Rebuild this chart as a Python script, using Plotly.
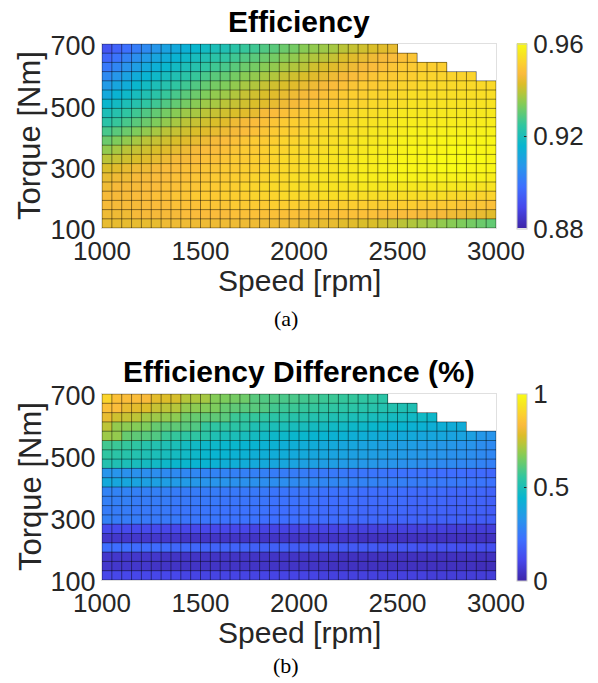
import plotly.graph_objects as go

# ---------------- data ----------------
speed = [1025, 1075, 1125, 1175, 1225, 1275, 1325, 1375, 1425, 1475,
         1525, 1575, 1625, 1675, 1725, 1775, 1825, 1875, 1925, 1975,
         2025, 2075, 2125, 2175, 2225, 2275, 2325, 2375, 2425, 2475,
         2525, 2575, 2625, 2675, 2725, 2775, 2825, 2875, 2925, 2975]
torque = [685, 655, 625, 595, 565, 535, 505, 475, 445, 415,
          385, 355, 325, 295, 265, 235, 205, 175, 145, 115]
speed_ticks = [1000, 1500, 2000, 2500, 3000]
torque_ticks = [100, 300, 500, 700]

# efficiency in thousandths (rows: top torque -> bottom torque)
eff_r00 = [892, 895, 898, 901, 904, 907, 910, 912, 914, 916, 918, 920, 921, 923, 925, 926, 928, 929, 931, 932, 934, 935, 936, 937, 939, 940, 941, 942, 943, 944]
eff_r01 = [896, 899, 902, 905, 908, 911, 913, 915, 917, 919, 921, 923, 924, 926, 928, 929, 931, 932, 934, 935, 937, 938, 939, 940, 942, 943, 944, 945, 946, 947, 948, 949]
eff_r02 = [900, 903, 906, 909, 912, 914, 916, 918, 920, 922, 924, 926, 927, 929, 931, 932, 934, 935, 937, 938, 939, 941, 942, 943, 944, 945, 946, 947, 948, 949, 950, 950, 951, 951, 951]
eff_r03 = [904, 907, 910, 913, 915, 917, 919, 921, 923, 925, 927, 929, 930, 932, 934, 935, 937, 938, 940, 941, 942, 943, 944, 945, 946, 947, 948, 949, 950, 950, 951, 951, 952, 952, 952, 952, 952, 952]
eff_r04 = [908, 911, 913, 916, 918, 920, 922, 924, 926, 928, 930, 932, 933, 935, 937, 938, 940, 941, 942, 943, 944, 945, 946, 947, 948, 949, 950, 950, 951, 951, 952, 952, 953, 953, 953, 953, 953, 953, 953, 953]
eff_r05 = [912, 915, 917, 919, 921, 923, 925, 927, 929, 931, 933, 935, 936, 938, 940, 941, 942, 943, 944, 945, 946, 947, 948, 949, 950, 951, 951, 952, 952, 953, 953, 954, 954, 954, 954, 954, 954, 954, 954, 954]
eff_r06 = [916, 918, 920, 922, 924, 926, 928, 930, 932, 934, 936, 937, 939, 940, 941, 942, 943, 944, 945, 946, 948, 949, 950, 950, 951, 952, 952, 953, 953, 954, 954, 955, 955, 955, 955, 955, 955, 955, 955, 955]
eff_r07 = [920, 922, 924, 926, 928, 930, 932, 934, 936, 937, 939, 940, 941, 942, 943, 944, 946, 947, 948, 949, 950, 951, 951, 952, 952, 953, 954, 954, 955, 955, 956, 956, 956, 956, 956, 956, 956, 956, 956, 956]
eff_r08 = [923, 925, 927, 929, 931, 933, 935, 937, 939, 940, 941, 942, 943, 945, 946, 947, 948, 949, 950, 951, 951, 952, 953, 953, 954, 954, 955, 955, 956, 956, 957, 957, 957, 957, 957, 957, 957, 957, 957, 957]
eff_r09 = [927, 929, 931, 933, 935, 937, 939, 940, 941, 942, 943, 944, 945, 946, 947, 948, 949, 950, 951, 951, 952, 953, 953, 954, 954, 955, 955, 956, 956, 957, 957, 958, 958, 958, 958, 958, 958, 958, 958, 958]
eff_r10 = [931, 933, 935, 937, 939, 940, 941, 942, 943, 944, 945, 946, 947, 948, 949, 950, 950, 951, 952, 952, 953, 953, 954, 954, 955, 955, 956, 956, 957, 957, 958, 958, 958, 959, 959, 959, 959, 959, 959, 959]
eff_r11 = [935, 937, 939, 940, 941, 942, 943, 944, 945, 946, 947, 947, 948, 949, 950, 950, 951, 952, 952, 953, 953, 954, 954, 955, 955, 956, 956, 957, 957, 958, 958, 959, 959, 959, 959, 960, 960, 960, 959, 959]
eff_r12 = [939, 940, 941, 942, 943, 944, 945, 946, 946, 947, 948, 948, 949, 950, 950, 951, 951, 952, 953, 953, 954, 954, 955, 955, 956, 956, 957, 957, 958, 958, 959, 959, 959, 960, 960, 960, 960, 960, 960, 959]
eff_r13 = [942, 943, 944, 945, 945, 946, 947, 947, 948, 948, 949, 949, 950, 950, 951, 951, 952, 952, 953, 953, 954, 954, 955, 955, 956, 956, 957, 957, 958, 958, 959, 959, 959, 959, 960, 960, 960, 959, 959, 959]
eff_r14 = [944, 945, 945, 946, 946, 947, 947, 948, 948, 949, 949, 950, 950, 951, 951, 952, 952, 953, 953, 954, 954, 955, 955, 955, 956, 956, 957, 957, 957, 958, 958, 958, 958, 958, 958, 958, 958, 958, 958, 957]
eff_r15 = [945, 946, 946, 946, 947, 947, 948, 948, 949, 949, 950, 950, 951, 951, 952, 952, 953, 953, 953, 954, 954, 954, 955, 955, 955, 955, 956, 956, 956, 956, 956, 956, 956, 956, 956, 956, 956, 956, 955, 955]
eff_r16 = [946, 946, 946, 947, 947, 948, 948, 949, 949, 950, 950, 950, 951, 951, 951, 952, 952, 952, 953, 953, 953, 953, 954, 954, 954, 954, 954, 954, 954, 954, 954, 954, 954, 954, 954, 953, 953, 953, 952, 952]
eff_r17 = [946, 946, 946, 946, 947, 947, 947, 948, 948, 948, 949, 949, 949, 950, 950, 950, 950, 951, 951, 951, 951, 951, 951, 951, 951, 951, 951, 951, 951, 951, 951, 951, 950, 950, 950, 950, 949, 949, 949, 948]
eff_r18 = [945, 945, 945, 946, 946, 946, 946, 946, 947, 947, 947, 947, 947, 948, 948, 948, 948, 948, 948, 948, 948, 948, 948, 948, 948, 948, 948, 948, 947, 947, 947, 947, 946, 946, 946, 945, 945, 944, 944, 943]
eff_r19 = [944, 944, 944, 944, 944, 944, 945, 945, 945, 945, 945, 945, 945, 945, 945, 945, 945, 945, 945, 945, 944, 944, 944, 944, 943, 943, 942, 942, 941, 940, 939, 938, 937, 936, 935, 934, 933, 932, 931, 930]

# efficiency difference in hundredths of a percent
dif_r00 = [90, 85, 84, 84, 83, 79, 78, 77, 73, 72, 71, 67, 66, 65, 64, 61, 60, 60, 59, 59, 58, 58, 57, 57, 56, 56, 55, 55, 54]
dif_r01 = [85, 84, 80, 79, 78, 75, 74, 73, 69, 68, 67, 66, 63, 62, 61, 61, 60, 58, 57, 57, 56, 56, 55, 55, 54, 54, 53, 53, 52, 52, 51, 51]
dif_r02 = [80, 76, 75, 74, 71, 70, 69, 68, 64, 63, 62, 62, 61, 57, 56, 56, 55, 54, 54, 53, 53, 52, 52, 51, 51, 50, 50, 49, 49, 48, 48, 47, 47, 46]
dif_r03 = [74, 69, 68, 67, 66, 63, 62, 62, 61, 60, 56, 55, 55, 54, 54, 51, 51, 50, 50, 49, 49, 48, 48, 47, 47, 46, 46, 45, 45, 44, 44, 43, 43, 42, 42, 41, 41]
dif_r04 = [70, 69, 63, 62, 61, 60, 57, 56, 55, 55, 54, 51, 50, 50, 49, 48, 47, 46, 46, 45, 45, 44, 44, 43, 43, 42, 42, 41, 41, 40, 40, 40, 39, 39, 39, 38, 38, 37, 34, 33]
dif_r05 = [58, 57, 56, 55, 53, 52, 51, 50, 48, 47, 46, 46, 45, 45, 44, 44, 43, 43, 42, 42, 41, 41, 40, 40, 39, 39, 38, 38, 37, 37, 36, 36, 35, 35, 34, 34, 33, 33, 31, 30]
dif_r06 = [55, 54, 53, 52, 51, 50, 49, 48, 47, 46, 45, 44, 44, 43, 43, 42, 42, 41, 41, 40, 40, 39, 39, 38, 38, 37, 37, 36, 36, 35, 35, 34, 34, 33, 33, 32, 32, 31, 30, 29]
dif_r07 = [52, 51, 50, 49, 48, 47, 46, 45, 45, 44, 44, 43, 42, 42, 41, 40, 40, 39, 39, 38, 37, 37, 36, 36, 35, 35, 34, 34, 33, 33, 32, 32, 31, 31, 30, 30, 29, 29, 28, 27]
dif_r08 = [33, 33, 32, 32, 31, 31, 30, 30, 29, 29, 28, 28, 28, 27, 27, 27, 27, 26, 26, 26, 26, 25, 25, 25, 25, 24, 24, 24, 24, 23, 23, 23, 23, 22, 22, 22, 22, 21, 21, 20]
dif_r09 = [40, 39, 39, 38, 37, 37, 36, 35, 35, 34, 33, 33, 33, 32, 32, 32, 31, 31, 31, 30, 30, 30, 29, 29, 29, 28, 28, 28, 27, 27, 27, 26, 26, 26, 25, 25, 25, 24, 24, 23]
dif_r10 = [28, 28, 28, 27, 27, 27, 27, 26, 26, 26, 26, 26, 25, 25, 25, 25, 25, 24, 24, 24, 24, 24, 23, 23, 23, 23, 22, 22, 22, 22, 22, 21, 21, 21, 21, 20, 20, 20, 20, 19]
dif_r11 = [27, 27, 27, 26, 26, 26, 26, 25, 25, 25, 25, 25, 24, 24, 24, 24, 24, 23, 23, 23, 23, 23, 22, 22, 22, 22, 21, 21, 21, 21, 21, 20, 20, 20, 20, 19, 19, 19, 19, 18]
dif_r12 = [26, 26, 26, 25, 25, 25, 25, 24, 24, 24, 24, 24, 23, 23, 23, 23, 23, 22, 22, 22, 22, 22, 21, 21, 21, 21, 20, 20, 20, 20, 20, 19, 19, 19, 19, 18, 18, 18, 18, 17]
dif_r13 = [27, 26, 26, 26, 25, 25, 25, 25, 24, 24, 24, 24, 23, 23, 23, 23, 22, 22, 22, 22, 22, 21, 21, 21, 21, 20, 20, 20, 20, 19, 19, 19, 19, 18, 18, 18, 18, 17, 17, 17]
dif_r14 = [12, 12, 12, 12, 12, 12, 11, 11, 11, 11, 11, 11, 11, 11, 11, 10, 10, 10, 10, 10, 10, 10, 10, 10, 10, 9, 9, 9, 9, 9, 9, 9, 9, 9, 9, 8, 8, 8, 8, 8]
dif_r15 = [6, 6, 6, 6, 6, 6, 6, 6, 5, 5, 5, 5, 5, 5, 5, 5, 5, 5, 5, 5, 5, 5, 5, 5, 5, 5, 4, 4, 4, 4, 4, 4, 4, 4, 4, 4, 4, 4, 4, 4]
dif_r16 = [22, 22, 22, 21, 21, 21, 21, 20, 20, 20, 19, 19, 19, 19, 19, 18, 18, 18, 18, 17, 17, 17, 17, 16, 16, 16, 16, 16, 15, 15, 15, 15, 14, 14, 14, 14, 13, 13, 13, 13]
dif_r17 = [6, 6, 6, 6, 6, 6, 5, 5, 5, 5, 5, 5, 5, 5, 5, 5, 5, 5, 5, 5, 5, 5, 5, 5, 4, 4, 4, 4, 4, 4, 4, 4, 4, 4, 4, 4, 4, 4, 4, 4]
dif_r18 = [6, 6, 6, 6, 6, 5, 5, 5, 5, 5, 5, 5, 5, 5, 5, 5, 5, 5, 5, 5, 5, 5, 5, 4, 4, 4, 4, 4, 4, 4, 4, 4, 4, 4, 4, 4, 4, 4, 3, 3]
dif_r19 = [11, 11, 11, 11, 11, 11, 11, 11, 10, 10, 10, 10, 10, 10, 10, 10, 10, 10, 10, 10, 10, 10, 9, 9, 9, 9, 9, 9, 9, 9, 9, 9, 9, 8, 8, 8, 8, 8, 8, 8]

eff_rows = [eff_r00, eff_r01, eff_r02, eff_r03, eff_r04, eff_r05, eff_r06, eff_r07, eff_r08, eff_r09,
            eff_r10, eff_r11, eff_r12, eff_r13, eff_r14, eff_r15, eff_r16, eff_r17, eff_r18, eff_r19]
dif_rows = [dif_r00, dif_r01, dif_r02, dif_r03, dif_r04, dif_r05, dif_r06, dif_r07, dif_r08, dif_r09,
            dif_r10, dif_r11, dif_r12, dif_r13, dif_r14, dif_r15, dif_r16, dif_r17, dif_r18, dif_r19]

# ---------------- helpers ----------------
n_cols = len(speed)


def to_matrix(rows, scale):
    return [[v / scale for v in row] + [None] * (n_cols - len(row)) for row in rows]


eff_z = to_matrix(eff_rows, 1000.0)
dif_z = to_matrix(dif_rows, 100.0)

# parula-like colour map
PARULA = [
    [0.000, "rgb(62,38,168)"], [0.111, "rgb(71,71,235)"], [0.222, "rgb(62,111,255)"],
    [0.333, "rgb(39,150,235)"], [0.444, "rgb(8,181,208)"], [0.556, "rgb(49,198,159)"],
    [0.667, "rgb(129,204,89)"], [0.722, "rgb(175,199,62)"], [0.778, "rgb(220,189,41)"],
    [0.833, "rgb(250,186,60)"], [0.889, "rgb(252,207,48)"], [0.944, "rgb(247,230,32)"],
    [1.000, "rgb(249,251,21)"],
]


def grid_lines(z):
    hs = (speed[1] - speed[0]) / 2.0
    ht = (torque[0] - torque[1]) / 2.0
    bottom = min(torque) - ht
    col_top = []
    for c in range(n_cols):
        tops = [torque[r] + ht for r in range(len(torque)) if z[r][c] is not None]
        col_top.append(max(tops))
    s_edges = [speed[0] - hs] + [s + hs for s in speed]
    t_edges = sorted([t - ht for t in torque] + [max(torque) + ht])
    xs, ys = [], []
    for k, e in enumerate(s_edges):
        neigh = [col_top[c] for c in (k - 1, k) if 0 <= c < n_cols]
        xs += [e, e, None]
        ys += [bottom, max(neigh), None]
    for t in t_edges:
        cols = [c for c in range(n_cols) if col_top[c] >= t - 1e-9]
        right = s_edges[max(cols) + 1]
        xs += [s_edges[0], right, None]
        ys += [t, t, None]
    return xs, ys


OFF = 8  # page margin of the html body
W, H = 598 - OFF, 683 - OFF
FONT = "Liberation Sans, Arial, Helvetica, sans-serif"
TXT = "#262626"


def px_x(p):
    return (p - OFF) / W


def px_y(p):
    return 1 - (p - OFF) / H


fig = go.Figure()

panels = [
    dict(z=eff_z, zmin=0.88, zmax=0.96, cb_vals=[0.88, 0.92, 0.96], cb_text=["0.88", "0.92", "0.96"],
         top=44, bot=228, ax="", title="Efficiency", label="(a)", label_y=318),
    dict(z=dif_z, zmin=0.0, zmax=1.0, cb_vals=[0, 0.5, 1], cb_text=["0", "0.5", "1"],
         top=394, bot=580, ax="2", title="Efficiency Difference (%)", label="(b)", label_y=665),
]

left, right = 102, 496
annotations = []
for p in panels:
    xa = "x" + p["ax"]
    ya = "y" + p["ax"]
    fig.add_trace(go.Heatmap(
        x=speed, y=torque, z=p["z"], zmin=p["zmin"], zmax=p["zmax"],
        colorscale=PARULA, xaxis=xa, yaxis=ya, hoverongaps=False,
        colorbar=dict(
            x=px_x(517), xanchor="left", xref="paper",
            y=px_y((p["top"] + p["bot"]) / 2), yanchor="middle", yref="paper",
            len=(p["bot"] - p["top"] + 1) / H, lenmode="fraction",
            thickness=10, outlinewidth=1, outlinecolor="#c8c8c8",
            tickvals=p["cb_vals"], ticktext=p["cb_text"],
            ticks="inside", ticklen=3, tickcolor="#262626",
            tickfont=dict(family=FONT, size=26, color=TXT),
            ypad=0, xpad=0,
        ),
    ))
    gx, gy = grid_lines(p["z"])
    fig.add_trace(go.Scatter(x=gx, y=gy, xaxis=xa, yaxis=ya, mode="lines",
                             line=dict(color="rgba(0,0,0,0.45)", width=1),
                             hoverinfo="skip", showlegend=False))
    xkey = "xaxis" + p["ax"]
    ykey = "yaxis" + p["ax"]
    fig.update_layout(**{
        xkey: dict(domain=[px_x(left), px_x(right)], anchor=ya, range=[1000, 3000],
                   tickvals=speed_ticks, showgrid=False, zeroline=False, automargin=False,
                   showline=True, linecolor="#e0e0e0", mirror=True, ticks="",
                   tickfont=dict(family=FONT, size=26, color=TXT)),
        ykey: dict(domain=[px_y(p["bot"]), px_y(p["top"])], anchor=xa, range=[100, 700],
                   tickvals=torque_ticks, showgrid=False, zeroline=False, automargin=False,
                   showline=True, linecolor="#e0e0e0", mirror=True, ticks="",
                   ticklabelshift=2,
                   tickfont=dict(family=FONT, size=27, color=TXT)),
    })
    cx = (left + right) / 2
    annotations += [
        dict(text="<b>" + p["title"] + "</b>", x=px_x(cx), y=px_y(p["top"] - 41),
             xanchor="center", yanchor="top", showarrow=False,
             font=dict(family=FONT, size=30, color="#000000")),
        dict(text="Speed [rpm]", x=px_x(cx), y=px_y(p["bot"] + 52),
             xanchor="center", yanchor="middle", showarrow=False,
             font=dict(family=FONT, size=30, color=TXT)),
        dict(text="Torque [Nm]", x=px_x(30), y=px_y((p["top"] + p["bot"]) / 2),
             xanchor="center", yanchor="middle", textangle=-90, showarrow=False,
             font=dict(family=FONT, size=31, color=TXT)),
        dict(text=p["label"], x=px_x(286), y=px_y(p["label_y"]),
             xanchor="center", yanchor="middle", showarrow=False,
             font=dict(family="Liberation Serif, Times New Roman, serif", size=22, color="#000000")),
    ]

for a in annotations:
    a["xref"] = "paper"
    a["yref"] = "paper"

fig.update_layout(
    width=W, height=H, margin=dict(l=0, r=0, t=0, b=0, autoexpand=False),
    paper_bgcolor="white", plot_bgcolor="white",
    showlegend=False, annotations=annotations,
)

fig.write_html("out.html")
